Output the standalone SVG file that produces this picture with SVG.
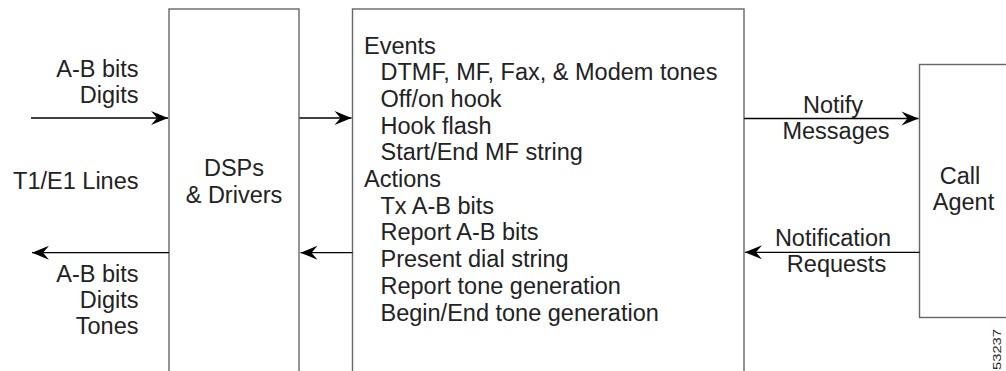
<svg xmlns="http://www.w3.org/2000/svg" width="1006" height="371" viewBox="0 0 1006 371">
<style>
.box{fill:#fff;stroke:#666;stroke-width:1.4}
.t{font-family:"Liberation Sans",Arial,sans-serif;font-size:23.5px;fill:#222}
.r{text-anchor:end}
.c{text-anchor:middle}
.ln{stroke:#000;stroke-width:1.3;fill:none}
</style>
<defs>
<marker id="ah" markerUnits="userSpaceOnUse" markerWidth="20" markerHeight="18" viewBox="-18 -9 19 18" refX="0" refY="0" orient="auto">
<path d="M0,0 L-17,-7 L-11,0 L-17,7 Z" fill="#000"/>
</marker>
</defs>
<rect width="1006" height="371" fill="#fff"/>
<g id="dsp">
<rect class="box" x="169" y="9" width="130" height="380"/>
<text class="t c" x="234" y="176">DSPs</text>
<text class="t c" x="234" y="202.5">&amp; Drivers</text>
</g>
<g id="gateway">
<rect class="box" x="352.5" y="9" width="391.5" height="380"/>
<text class="t" x="364" y="53.5">Events</text>
<text class="t" x="380.5" y="80.2">DTMF, MF, Fax, &amp; Modem tones</text>
<text class="t" x="380.5" y="106.9">Off/on hook</text>
<text class="t" x="380.5" y="133.6">Hook flash</text>
<text class="t" x="380.5" y="160.3">Start/End MF string</text>
<text class="t" x="364" y="187">Actions</text>
<text class="t" x="380.5" y="213.7">Tx A-B bits</text>
<text class="t" x="380.5" y="240.4">Report A-B bits</text>
<text class="t" x="380.5" y="267.1">Present dial string</text>
<text class="t" x="380.5" y="293.8">Report tone generation</text>
<text class="t" x="380.5" y="320.5">Begin/End tone generation</text>
</g>
<g id="callagent">
<rect class="box" x="919.5" y="64.5" width="100" height="253"/>
<text class="t c" x="960" y="184">Call</text>
<text class="t c" x="963.5" y="210">Agent</text>
</g>
<g id="t1e1">
<text class="t r" x="138.5" y="77">A-B bits</text>
<text class="t r" x="138.5" y="103">Digits</text>
<text class="t r" x="138.5" y="189">T1/E1 Lines</text>
<text class="t r" x="138.5" y="282">A-B bits</text>
<text class="t r" x="138.5" y="308">Digits</text>
<text class="t r" x="138.5" y="334">Tones</text>
</g>
<g id="connectors">
<line class="ln" x1="31" y1="118" x2="168" y2="118" marker-end="url(#ah)"/>
<line class="ln" x1="299.5" y1="118" x2="351.5" y2="118" marker-end="url(#ah)"/>
<line class="ln" x1="744" y1="118.5" x2="918.5" y2="118.5" marker-end="url(#ah)"/>
<line class="ln" x1="169" y1="252.7" x2="32" y2="252.7" marker-end="url(#ah)"/>
<line class="ln" x1="352.5" y1="252.7" x2="300.5" y2="252.7" marker-end="url(#ah)"/>
<line class="ln" x1="919.5" y1="252.3" x2="745" y2="252.3" marker-end="url(#ah)"/>
<text class="t c" x="833" y="113.3">Notify</text>
<text class="t c" x="836" y="139">Messages</text>
<text class="t c" x="833" y="246">Notification</text>
<text class="t c" x="836.5" y="272.3">Requests</text>
</g>
<text font-family="'Liberation Sans',Arial,sans-serif" font-size="10.5" fill="#222" transform="translate(1000.8,370) rotate(-90)" textLength="41" lengthAdjust="spacingAndGlyphs">53237</text>
</svg>
